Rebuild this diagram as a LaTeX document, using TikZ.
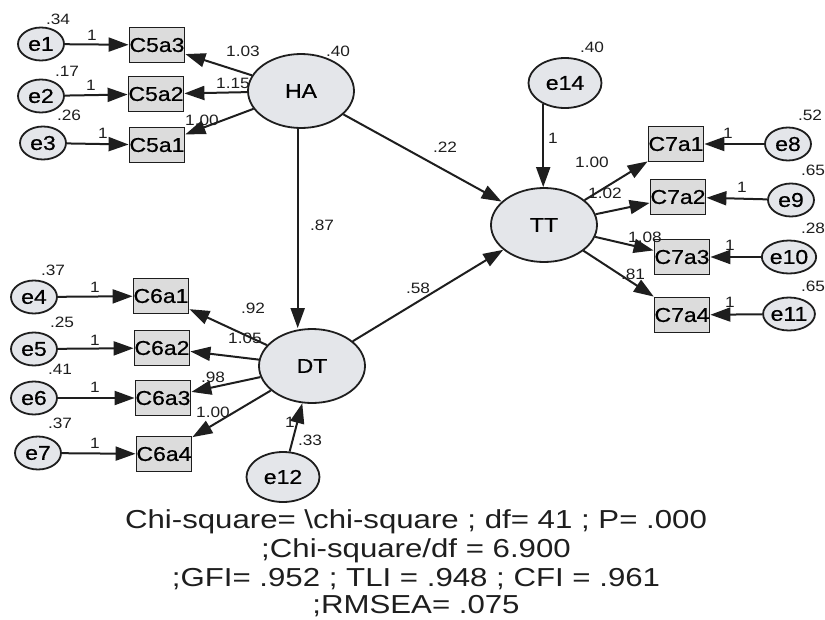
\documentclass[tikz,border=0pt]{standalone}
\usepackage{fontspec}
\setmainfont{Liberation Sans}
\newfontfamily\nodefont[FakeStretch=1.15,FakeBold=0.6]{Liberation Sans}
\newfontfamily\numfont[FakeStretch=1.15]{Liberation Sans}
\newfontfamily\fitfont[FakeStretch=1.2]{Liberation Sans}
\usetikzlibrary{arrows.meta,shapes.geometric}
\definecolor{latfill}{HTML}{E4E6EA}
\definecolor{obsfill}{HTML}{DCDCDC}
\definecolor{ink}{HTML}{1E1E1E}
\tikzset{
  latent/.style={ellipse, draw=ink, line width=1.8pt, fill=latfill, inner sep=0pt,
    minimum width=106pt, minimum height=74pt, font=\nodefont\fontsize{20}{22}\selectfont},
  errsmall/.style={ellipse, draw=ink, line width=1.8pt, fill=latfill, inner sep=0pt,
    minimum width=46pt, minimum height=33pt, font=\nodefont\fontsize{20}{22}\selectfont},
  errbig/.style={ellipse, draw=ink, line width=1.8pt, fill=latfill, inner sep=0pt,
    minimum width=73pt, minimum height=50pt, font=\nodefont\fontsize{20}{22}\selectfont},
  obs/.style={rectangle, draw=ink, line width=1.8pt, fill=obsfill, inner sep=0pt,
    minimum width=52pt, minimum height=35pt, font=\nodefont\fontsize{20}{22}\selectfont},
  path/.style={draw=ink, line width=2pt, -{Triangle[length=20pt,width=14pt]}},
  est/.style={inner sep=0pt, text=ink, font=\numfont\fontsize{15}{18}\selectfont},
  fitline/.style={anchor=base, inner sep=0pt, text=ink, font=\fitfont\fontsize{26}{28}\selectfont},
}
\begin{document}
\begin{tikzpicture}[x=1pt,y=-1pt]
\useasboundingbox (0,0) rectangle (825,619);

% latent factors
\node[latent] (HA) at (301,91) {HA};
\node[latent] (DT) at (312,366) {DT};
\node[latent] (TT) at (544,225) {TT};
\node[errbig] (e14) at (565,83) {e14};
\node[errbig] (e12) at (283,477) {e12};

% HA indicators
\node[obs] (C5a3) at (157,45) {C5a3};
\node[obs] (C5a2) at (156,94) {C5a2};
\node[obs] (C5a1) at (157,145) {C5a1};
\node[errsmall] (e1) at (41,44) {e1};
\node[errsmall] (e2) at (41,96) {e2};
\node[errsmall] (e3) at (43,143) {e3};

% DT indicators
\node[obs] (C6a1) at (161,296) {C6a1};
\node[obs] (C6a2) at (162,348) {C6a2};
\node[obs] (C6a3) at (163,398) {C6a3};
\node[obs] (C6a4) at (164,454) {C6a4};
\node[errsmall] (e4) at (34,297) {e4};
\node[errsmall] (e5) at (34,349) {e5};
\node[errsmall] (e6) at (34,398) {e6};
\node[errsmall] (e7) at (38,453) {e7};

% TT indicators
\node[obs] (C7a1) at (676,144) {C7a1};
\node[obs] (C7a2) at (678,197) {C7a2};
\node[obs] (C7a3) at (682,257) {C7a3};
\node[obs] (C7a4) at (682,315) {C7a4};
\node[errsmall] (e8) at (788,144) {e8};
\node[errsmall] (e9) at (791,200) {e9};
\node[errsmall] (e10) at (789,257) {e10};
\node[errsmall] (e11) at (789,314) {e11};

% structural paths
\draw[path] (HA.265) -- (HA.265 |- DT.north);
\draw[path] (HA) -- (TT);
\draw[path] (DT) -- (TT);
\draw[path] (e14.224) -- (e14.224 |- TT.north);
\draw[path] (e12) -- (DT);

% loadings
\foreach \f/\v in {HA/C5a3,HA/C5a2,HA/C5a1,DT/C6a1,DT/C6a2,DT/C6a3,DT/C6a4,TT/C7a1,TT/C7a2,TT/C7a3,TT/C7a4}
  \draw[path] (\f) -- (\v);

% measurement errors
\foreach \e/\v in {e1/C5a3,e2/C5a2,e3/C5a1,e4/C6a1,e5/C6a2,e6/C6a3,e7/C6a4,e8/C7a1,e9/C7a2,e10/C7a3,e11/C7a4}
  \draw[path] (\e) -- (\v);

% variances
\node[est] (v1) at (58,19) {.34};
\node[est] (v2) at (67,71) {.17};
\node[est] (v3) at (69,115) {.26};
\node[est] (vHA) at (338,51) {.40};
\node[est] (v14) at (592,47) {.40};
\node[est] (v8) at (810,115) {.52};
\node[est] (v9) at (813,170) {.65};
\node[est] (v10) at (813,228) {.28};
\node[est] (v11) at (813,286) {.65};
\node[est] (v4) at (53,270) {.37};
\node[est] (v5) at (62,322) {.25};
\node[est] (v6) at (60,369) {.41};
\node[est] (v7) at (60,423) {.37};
\node[est] (v12) at (310,440) {.33};

% fixed paths
\node[est] (f1) at (92,35) {1};
\node[est] (f2) at (91,85) {1};
\node[est] (f3) at (103,133) {1};
\node[est] (f4) at (95,287) {1};
\node[est] (f5) at (95,340) {1};
\node[est] (f6) at (95,387) {1};
\node[est] (f7) at (95,443) {1};
\node[est] (f8) at (728,133) {1};
\node[est] (f9) at (742,187) {1};
\node[est] (f10) at (730,245) {1};
\node[est] (f11) at (730,302) {1};
\node[est] (f14) at (553,138) {1};
\node[est] (f12) at (290,422) {1};

% path coefficients
\node[est] (l1) at (243,51) {1.03};
\node[est] (l2) at (233,83) {1.15};
\node[est] (l3) at (202,120) {1.00};
\node[est] (l4) at (253,308) {.92};
\node[est] (l5) at (245,338) {1.05};
\node[est] (l6) at (213,377) {.98};
\node[est] (l7) at (213,412) {1.00};
\node[est] (l8) at (592,162) {1.00};
\node[est] (l9) at (605,193) {1.02};
\node[est] (l10) at (645,237) {1.08};
\node[est] (l11) at (633,274) {.81};
\node[est] (sHADT) at (322,225) {.87};
\node[est] (sHATT) at (445,147) {.22};
\node[est] (sDTTT) at (418,288) {.58};

% model fit
\node[fitline] (fit1) at (416,528) {Chi-square= \textbackslash chi-square ; df= 41 ; P= .000};
\node[fitline] (fit2) at (416,557) {;Chi-square/df = 6.900};
\node[fitline] (fit3) at (416,586) {;GFI= .952 ; TLI = .948 ; CFI = .961};
\node[fitline] (fit4) at (416,613) {;RMSEA= .075};
\end{tikzpicture}
\end{document}
